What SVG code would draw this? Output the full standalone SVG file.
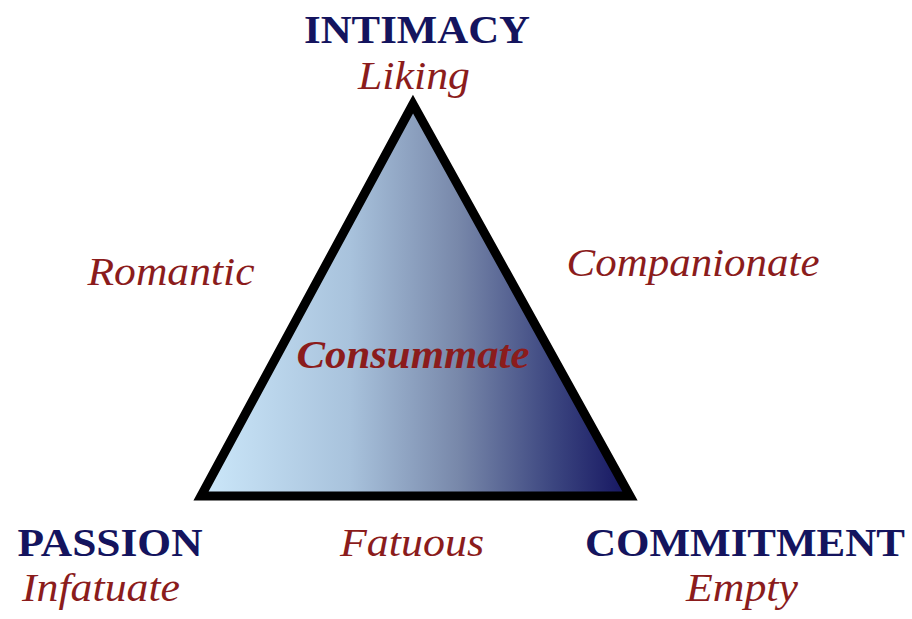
<svg xmlns="http://www.w3.org/2000/svg" width="912" height="619" viewBox="0 0 912 619">
<defs>
<linearGradient id="g" x1="200" y1="0" x2="630" y2="0" gradientUnits="userSpaceOnUse">
<stop offset="0" stop-color="#cce8fa"/>
<stop offset="0.35" stop-color="#a8c2dc"/>
<stop offset="0.6" stop-color="#7888aa"/>
<stop offset="0.82" stop-color="#3c4680"/>
<stop offset="1" stop-color="#141460"/>
</linearGradient>
<style>
.h{font-family:"Liberation Serif",serif;font-weight:bold;fill:#14145e;font-size:41px}
.s{font-family:"Liberation Serif",serif;font-style:italic;fill:#8b1c1c;font-size:41px}
.c{font-family:"Liberation Serif",serif;font-style:italic;font-weight:bold;fill:#8b1c1c;font-size:40px}
</style>
</defs>
<rect width="912" height="619" fill="#ffffff"/>
<g id="triangle">
<polygon points="413,104 201,496 630,496" fill="url(#g)" stroke="#000" stroke-width="9" stroke-linejoin="miter"/>
</g>
<g id="connectors"></g>
<g id="intimacy">
<text class="h" x="417" y="43" text-anchor="middle" font-size="44" textLength="226" lengthAdjust="spacingAndGlyphs">INTIMACY</text>
<text class="s" x="414" y="89" text-anchor="middle" textLength="112" lengthAdjust="spacingAndGlyphs">Liking</text>
</g>
<g id="romantic"><text class="s" x="171" y="285" text-anchor="middle" textLength="167" lengthAdjust="spacingAndGlyphs">Romantic</text></g>
<g id="companionate"><text class="s" x="693" y="276" text-anchor="middle" textLength="253" lengthAdjust="spacingAndGlyphs">Companionate</text></g>
<g id="consummate"><text class="c" x="413" y="368" text-anchor="middle" textLength="233" lengthAdjust="spacingAndGlyphs">Consummate</text></g>
<g id="passion">
<text class="h" x="110" y="556" text-anchor="middle" textLength="185" lengthAdjust="spacingAndGlyphs">PASSION</text>
<text class="s" x="101" y="601" text-anchor="middle" textLength="158" lengthAdjust="spacingAndGlyphs">Infatuate</text>
</g>
<g id="fatuous"><text class="s" x="412" y="556" text-anchor="middle" textLength="144" lengthAdjust="spacingAndGlyphs">Fatuous</text></g>
<g id="commitment">
<text class="h" x="745" y="556" text-anchor="middle" textLength="320" lengthAdjust="spacingAndGlyphs">COMMITMENT</text>
<text class="s" x="742" y="601" text-anchor="middle" textLength="112" lengthAdjust="spacingAndGlyphs">Empty</text>
</g>
</svg>
